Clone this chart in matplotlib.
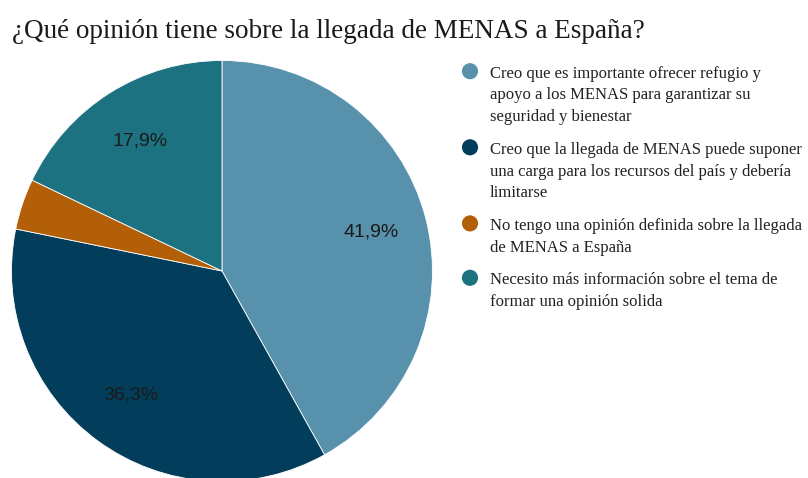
import matplotlib.pyplot as plt

titulo = "¿Qué opinión tiene sobre la llegada de MENAS a España?"
valores = [41.9, 36.3, 3.9, 17.9]
colores = ["#5791ac", "#023d5b", "#b35f07", "#1c7281"]
# etiquetas de la leyenda, ya partidas en líneas como en la imagen
etiquetas = [
    ["Creo que es importante ofrecer refugio y",
     "apoyo a los MENAS para garantizar su",
     "seguridad y bienestar"],
    ["Creo que la llegada de MENAS puede suponer",
     "una carga para los recursos del país y debería",
     "limitarse"],
    ["No tengo una opinión definida sobre la llegada",
     "de MENAS a España"],
    ["Necesito más información sobre el tema de",
     "formar una opinión solida"],
]


def etiqueta_pct(p):
    if p < 5:
        return ""
    return f"{p:.1f}%".replace(".", ",")


fig = plt.figure(figsize=(8.08, 4.78), dpi=100)

# tarta: [left, bottom, width, height] en fracción de figura
ax = fig.add_axes([0.01423, -0.00732, 0.5210, 0.8808])
wedges, textos, pcts = ax.pie(
    valores, colors=colores, startangle=90, counterclock=False,
    autopct=etiqueta_pct, pctdistance=0.73,
    wedgeprops=dict(edgecolor="white", linewidth=0.6),
    textprops=dict(family="Liberation Sans", fontsize=14, color="#1a1a1a"))
ax.set_xlim(-1, 1)
ax.set_ylim(-1, 1)
ax.set_aspect("equal")

fig.text(12 / 808, 1 - 38 / 478, titulo, family="Liberation Serif",
         fontsize=19.5, color="#1a1a1a", va="baseline", ha="left")

# leyenda a mano, en coordenadas de píxel
lg = fig.add_axes([0, 0, 1, 1], zorder=-1)
lg.set_xlim(0, 808)
lg.set_ylim(478, 0)
lg.axis("off")
y = 77.7
paso = 21.7
hueco = 11.0
for color, lineas in zip(colores, etiquetas):
    lg.scatter([470], [y - 6.5], s=135, color=color, edgecolors="none")
    for i, linea in enumerate(lineas):
        lg.text(490, y + i * paso, linea, family="Liberation Serif",
                fontsize=12, color="#222222", va="baseline", ha="left")
    y += len(lineas) * paso + hueco

fig.savefig("out.png", dpi=100)
